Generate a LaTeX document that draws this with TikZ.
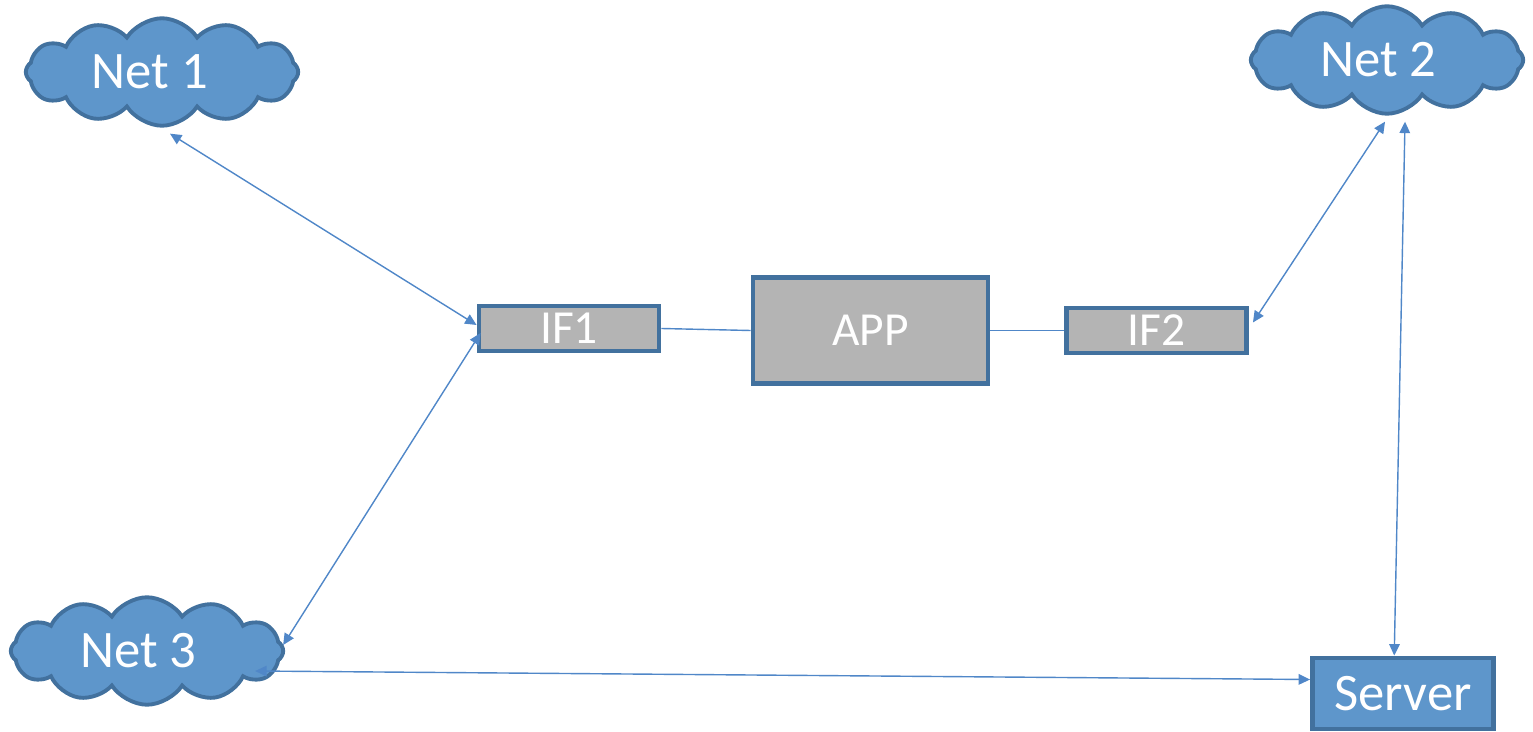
\documentclass[tikz,border=0pt]{standalone}
\usepackage{fontspec}
\setmainfont{Carlito}
\usetikzlibrary{shapes.symbols,arrows.meta}
\definecolor{cfill}{RGB}{94,150,203}
\definecolor{cborder}{RGB}{66,113,158}
\definecolor{gfill}{RGB}{180,180,180}
\definecolor{lcol}{RGB}{80,135,200}
\tikzset{
  netcloud/.style={cloud, cloud puffs=12, cloud puff arc=115, aspect=2.5,
    draw=cborder, fill=cfill, line width=2.2pt, minimum width=5.45cm, minimum height=2.15cm,
    inner sep=0pt, text=white, font=\fontsize{30}{35}\selectfont},
  graybox/.style={draw=cborder, fill=gfill, line width=2.8pt, inner sep=0pt,
    text=white, font=\fontsize{27}{32}\selectfont},
  serverbox/.style={draw=cborder, fill=cfill, line width=2.8pt, inner sep=0pt,
    text=white, font=\fontsize{30}{35}\selectfont},
  conn/.style={draw=lcol, line width=0.8pt},
  biconn/.style={conn, {Triangle[length=6.5pt,width=6pt]}-{Triangle[length=6.5pt,width=6pt]}},
}
\begin{document}
\begin{tikzpicture}[x=0.02cm,y=-0.02cm]
\useasboundingbox (0,0) rectangle (1533,732);
\node[netcloud] (net1) at (162,72) {\hspace*{-14pt}Net 1};
\node[netcloud] (net2) at (1387,60) {\hspace*{-10pt}Net 2};
\node[netcloud] (net3) at (147,651) {\hspace*{-10pt}Net 3};
\node[graybox, minimum width=3.6cm, minimum height=0.9cm] (if1) at (569,328.5) {\raisebox{-3pt}{IF1}};
\node[graybox, minimum width=4.7cm, minimum height=2.12cm] (app) at (870.5,330.5) {APP};
\node[graybox, minimum width=3.6cm, minimum height=0.9cm] (if2) at (1156.5,330.5) {\raisebox{-3pt}{IF2}};
\node[serverbox, minimum width=3.62cm, minimum height=1.42cm] (server) at (1403,693.5) {\raisebox{-4pt}{Server}};
\draw[conn] (if1.east) -- (app.west);
\draw[conn] (app.east) -- (if2.west);
\draw[biconn] ([shift={(8,6)}]net1.south) -- ([shift={(0,-3.5)}]if1.west);
\draw[biconn] ([shift={(4,4.5)}]if1.west) -- ([shift={(-2,-6)}]net3.east);
\draw[biconn] ([shift={(-2,6)}]net2.south) -- ([shift={(4,-8)}]if2.east);
\draw[biconn] ([shift={(18,6)}]net2.south) -- ([xshift=-5]server.north);
\draw[biconn] ([shift={(-30,20)}]net3.east) -- ([shift={(0,-14)}]server.west);
\end{tikzpicture}
\end{document}
